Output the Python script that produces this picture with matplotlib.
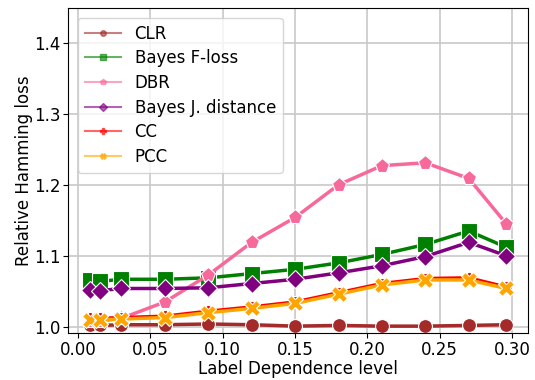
import numpy as np
import matplotlib
matplotlib.use('Agg')
from matplotlib import pyplot as plt
from matplotlib.lines import Line2D

# niveles de dependencia
x = [0.008, 0.015, 0.03, 0.06, 0.09, 0.12, 0.15, 0.18, 0.21, 0.24, 0.27, 0.296]

clr = [1.003, 1.002, 1.003, 1.003, 1.004, 1.003, 1.001, 1.002, 1.001, 1.001, 1.002, 1.003]
bayes_f = [1.066, 1.064, 1.067, 1.067, 1.069, 1.075, 1.081, 1.090, 1.102, 1.116, 1.135, 1.112]
dbr = [1.008, 1.008, 1.012, 1.035, 1.073, 1.119, 1.154, 1.200, 1.227, 1.231, 1.209, 1.145]
bayes_j = [1.052, 1.051, 1.054, 1.054, 1.055, 1.061, 1.067, 1.076, 1.086, 1.099, 1.119, 1.100]
cc = [1.012, 1.012, 1.013, 1.015, 1.022, 1.028, 1.035, 1.048, 1.061, 1.068, 1.069, 1.056]
pcc = [1.010, 1.010, 1.011, 1.013, 1.020, 1.026, 1.033, 1.046, 1.059, 1.066, 1.066, 1.054]

series = [
    ('CLR', clr, 'brown', 'o', 10),
    ('Bayes F-loss', bayes_f, 'green', 's', 11),
    ('DBR', dbr, '#f7699b', 'p', 11),
    ('Bayes J. distance', bayes_j, 'purple', 'D', 9),
    ('CC', cc, 'red', 'P', 9),
    ('PCC', pcc, 'orange', 'X', 11),
]

fig, ax = plt.subplots(figsize=(5.35, 3.8), dpi=100)
ax.grid(True, color='#c8c8c8', linewidth=1.2)
ax.set_axisbelow(True)

handles = []
for name, vals, col, mk, ms in series:
    ax.plot(x, vals, color=col, marker=mk, markersize=ms, linewidth=2.5,
            markeredgecolor='white', markeredgewidth=0.8)
    handles.append(Line2D([], [], color=col, marker=mk, markersize=4,
                          linewidth=1.5, alpha=0.6, markerfacecolor=col,
                          markeredgecolor=col))

ax.set_xlim(-0.007, 0.311)
ax.set_ylim(0.9915, 1.449)
ax.set_xticks([0.0, 0.05, 0.10, 0.15, 0.20, 0.25, 0.30])
ax.set_yticks([1.0, 1.1, 1.2, 1.3, 1.4])
ax.tick_params(labelsize=12, pad=2)
ax.set_xlabel('Label Dependence level', fontsize=12, labelpad=1)
ax.set_ylabel('Relative Hamming loss', fontsize=12, labelpad=0.5)
for s in ax.spines.values():
    s.set_color('black')

ax.legend(handles, [s[0] for s in series], loc='upper left', fontsize=12,
          handlelength=2.2, framealpha=0.8, borderaxespad=0.6,
          labelspacing=0.4)

plt.subplots_adjust(left=0.127, right=0.987, top=0.979, bottom=0.124)
plt.savefig('out.png')
